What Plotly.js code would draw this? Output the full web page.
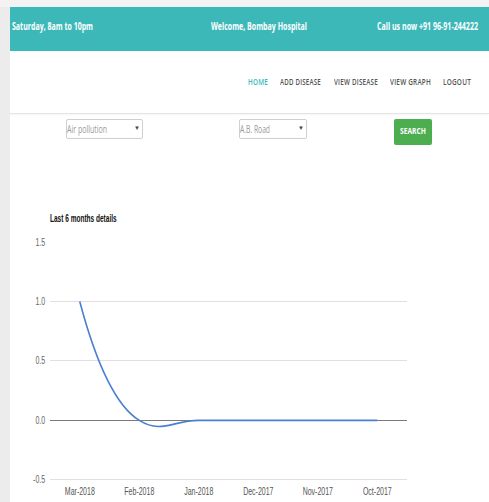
<!DOCTYPE html>
<html><head><meta charset="utf-8">
<script src="https://cdn.plot.ly/plotly-3.0.1.min.js"></script>
<style>
html,body{margin:0;padding:0;width:489px;height:502px;overflow:hidden;background:#ececec;font-family:"Liberation Sans",Arial,sans-serif;}
#page{position:absolute;left:10px;top:0;width:479px;height:502px;background:#fff;}
#topgap{position:absolute;left:0;top:0;width:489px;height:7px;background:#f3f3f3;}
#bar{position:absolute;left:10px;top:7px;width:479px;height:44px;background:#3db8b9;}
.t{position:absolute;white-space:nowrap;transform-origin:left center;display:inline-block;}
.hd{color:#fff;font-family:"Open Sans",sans-serif;font-weight:700;font-size:11px;top:19px;line-height:14px;}
.nv{top:76px;font-size:8.5px;line-height:12px;color:#555;font-family:"Open Sans",sans-serif;font-weight:600;letter-spacing:0.3px;}
#rule{position:absolute;left:10px;top:113px;width:479px;height:1px;background:#e4e4e4;box-shadow:0 1px 2px rgba(0,0,0,0.06);}
.sel{position:absolute;top:119px;height:20px;border:1px solid #cfcfcf;border-radius:2px;background:#fff;box-sizing:border-box;}
.st{top:122px;font-size:11px;line-height:14px;color:#999;font-family:"Open Sans",sans-serif;}
.ar{position:absolute;top:125px;font-size:6px;color:#444;}
#btn{position:absolute;left:394px;top:119px;width:38px;height:26px;background:#4cae4f;border-radius:2px;}
.bt{top:125px;font-size:9px;line-height:12px;color:#fff;font-weight:700;font-family:"Open Sans",sans-serif;}
#chart{position:absolute;left:0;top:200px;width:489px;height:302px;}
</style></head><body>
<div id="page"></div>
<div id="topgap"></div>
<div id="bar"></div>
<span class="t hd" data-x="12" data-w="81">Saturday, 8am to 10pm</span>
<span class="t hd" data-x="211" data-w="96">Welcome, Bombay Hospital</span>
<span class="t hd" data-x="377" data-w="101">Call us now +91 96-91-244222</span>
<span class="t nv" data-x="248" data-w="20" style="color:#3db8b9">HOME</span>
<span class="t nv" data-x="280" data-w="41">ADD DISEASE</span>
<span class="t nv" data-x="334" data-w="44">VIEW DISEASE</span>
<span class="t nv" data-x="390" data-w="41">VIEW GRAPH</span>
<span class="t nv" data-x="443" data-w="28">LOGOUT</span>
<div id="rule"></div>
<div class="sel" style="left:66px;width:77px"></div>
<span class="t st" data-x="67" data-w="40">Air pollution</span>
<span class="ar" style="left:134px">▼</span>
<div class="sel" style="left:239px;width:68px"></div>
<span class="t st" data-x="240" data-w="30">A.B. Road</span>
<span class="ar" style="left:298px">▼</span>
<div id="btn"></div>
<span class="t bt" data-x="400" data-w="26">SEARCH</span>
<div id="chart"></div>
<script>
const months = ["Mar-2018","Feb-2018","Jan-2018","Dec-2017","Nov-2017","Oct-2017"];
const counts = [1, 0, 0, 0, 0, 0];
const yTicks = [-0.5, 0, 0.5, 1, 1.5];
const yTickText = ["-0.5","0.0","0.5","1.0","1.5"];

document.querySelectorAll(".t").forEach(el => {
  el.style.left = el.dataset.x + "px";
  const w = el.getBoundingClientRect().width;
  el.style.transform = "scaleX(" + (parseFloat(el.dataset.w) / w) + ")";
});

const FONT = '"Liberation Sans",Arial,sans-serif';
Plotly.newPlot("chart", [{
  x: months, y: counts, type: "scatter", mode: "lines",
  line: {color: "#4b7fd2", width: 1.6, shape: "spline", smoothing: 1.3},
  hoverinfo: "x+y"
}], {
  width: 489, height: 302,
  margin: {l: 50, r: 82, t: 42, b: 21},
  paper_bgcolor: "rgba(0,0,0,0)", plot_bgcolor: "rgba(0,0,0,0)",
  font: {family: FONT, size: 10, color: "#666"},
  title: {text: "Last 6 months details", x: 50/489, xanchor: "left", y: 1 - 19/302, yanchor: "middle",
          font: {size: 10, color: "#111", family: FONT, weight: "bold"}},
  xaxis: {type: "category", range: [-0.5, 5.5], showgrid: false, zeroline: false,
          showline: false, ticks: "",
          tickfont: {size: 10, color: "#555"}, ticklabelstandoff: 3},
  yaxis: {range: [-0.51, 1.5], tickvals: yTicks, ticktext: yTickText, showgrid: true, gridcolor: "#e0e0e0", gridwidth: 1,
          zeroline: true, zerolinecolor: "#7a7a7a", zerolinewidth: 1, showline: false, ticks: "",
          tickfont: {size: 10, color: "#666"}, ticklabelstandoff: 4},
  showlegend: false
}, {displayModeBar: false, staticPlot: true}).then(gd => {
  function squeeze(el, s, anchor) {
    const b = el.getBBox();
    const cx = anchor === "left" ? b.x : anchor === "right" ? b.x + b.width : b.x + b.width / 2;
    const prev = el.getAttribute("transform") || "";
    el.setAttribute("transform", prev + " translate(" + cx + ",0) scale(" + s + ",1) translate(" + (-cx) + ",0)");
  }
  gd.querySelectorAll(".xtick text").forEach(t => squeeze(t, 0.7, "center"));
  gd.querySelectorAll(".ytick text").forEach(t => squeeze(t, 0.7, "right"));
  const title = gd.querySelector(".gtitle");
  if (title) squeeze(title, 67 / title.getBBox().width, "left");
});
</script>
</body></html>
